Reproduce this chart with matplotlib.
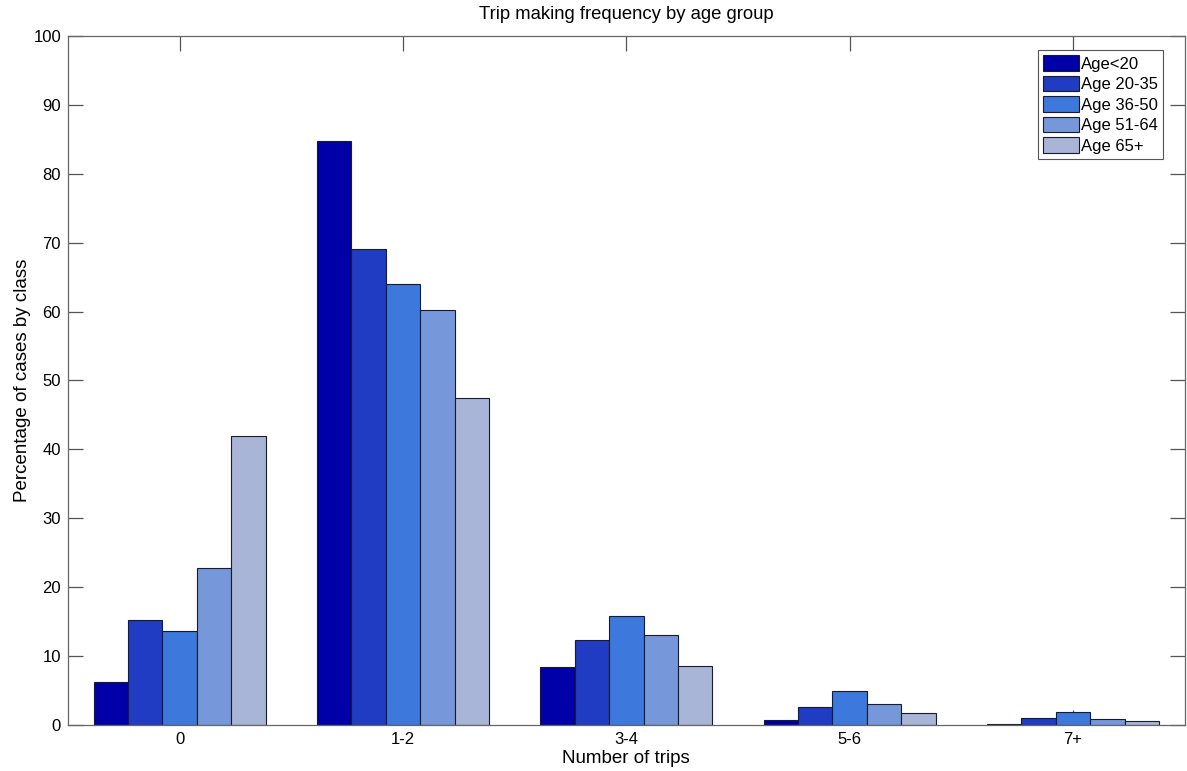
import numpy as np
import matplotlib.pyplot as plt

plt.rcParams['font.family'] = ['Liberation Sans', 'DejaVu Sans']

# data
trip_classes = ["0", "1-2", "3-4", "5-6", "7+"]
age_groups = ["Age<20", "Age 20-35", "Age 36-50", "Age 51-64", "Age 65+"]
age_lt20 = [6.2, 84.7, 8.4, 0.65, 0.15]
age_20_35 = [15.2, 69.1, 12.3, 2.6, 1.05]
age_36_50 = [13.6, 64.0, 15.8, 4.9, 1.9]
age_51_64 = [22.8, 60.3, 13.1, 3.0, 0.9]
age_65p = [41.9, 47.5, 8.6, 1.8, 0.55]
colors = ["#0000A8", "#1F3CC3", "#3D78DC", "#7697DA", "#A9B5D7"]

series = [age_lt20, age_20_35, age_36_50, age_51_64, age_65p]

fig = plt.figure(figsize=(11.87, 7.71), dpi=100)
ax = fig.add_axes([0.0573, 0.0597, 0.9407, 0.8936])

x = np.arange(1, len(trip_classes) + 1)
w = 0.154
for i, (vals, lab, col) in enumerate(zip(series, age_groups, colors)):
    ax.bar(x + (i - 2) * w, vals, width=w, color=col, edgecolor="#1a1a2e",
           linewidth=0.8, label=lab, zorder=2)

ax.set_xlim(0.5, 5.5)
ax.set_ylim(0, 100)
ax.set_xticks(x)
ax.set_xticklabels(trip_classes)
ax.set_yticks(np.arange(0, 101, 10))
ax.tick_params(direction="in", length=11, width=0.9, color="#555555",
               top=True, right=True, labelsize=12, pad=5)
for sp in ax.spines.values():
    sp.set_color("#666666")
    sp.set_linewidth(0.9)

ax.set_title("Trip making frequency by age group", fontsize=13.3, pad=12)
ax.set_xlabel("Number of trips", fontsize=13.5, labelpad=2)
ax.set_ylabel("Percentage of cases by class", fontsize=13.5, labelpad=2)

leg = ax.legend(loc="upper right", bbox_to_anchor=(0.9805, 0.9795), fontsize=12,
                fancybox=False, framealpha=1, edgecolor="#555555",
                handlelength=2.2, handleheight=1.05, handletextpad=0.1,
                labelspacing=0.25, borderpad=0.3, borderaxespad=0)
leg.get_frame().set_linewidth(0.8)

fig.savefig("out.png", dpi=100)
